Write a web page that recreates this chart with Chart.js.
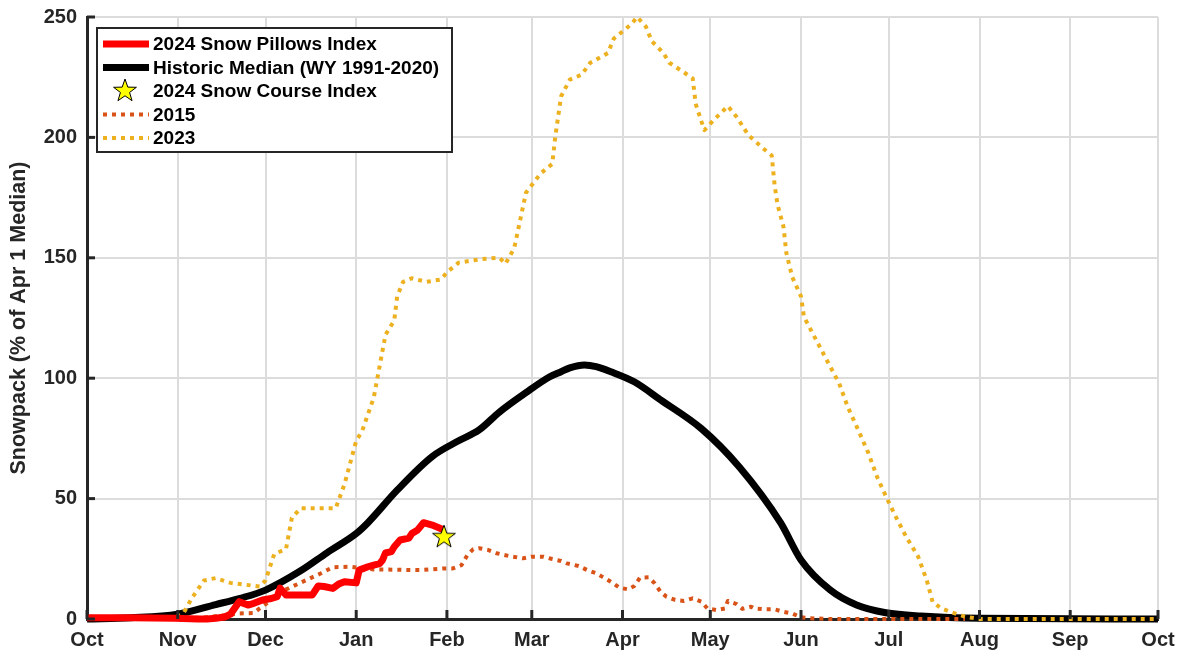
<!DOCTYPE html>
<html>
<head>
<meta charset="utf-8">
<script src="https://cdn.jsdelivr.net/npm/chart.js@4.4.1/dist/chart.umd.min.js"></script>
<style>
  html, body { margin: 0; padding: 0; background: #fff; }
  #wrap { width: 1183px; height: 656px; position: relative; }
</style>
</head>
<body>
<div id="wrap"><canvas id="canvas"></canvas></div>
<script>
// x = days since Oct 1 (WY 2024, leap Feb)
const monthDays = [0, 31, 61, 92, 123, 152, 183, 213, 244, 274, 305, 336, 366]
const monthNames = ['Oct', 'Nov', 'Dec', 'Jan', 'Feb', 'Mar', 'Apr', 'May', 'Jun', 'Jul', 'Aug', 'Sep', 'Oct']
const yTicks = [0, 50, 100, 150, 200, 250]

// 2024 snow pillows index
const days2024 = [0, 15, 30, 38, 41, 44, 47, 49, 50, 52, 55, 57, 60, 63, 65, 66, 68, 72, 77, 79, 81, 84, 86, 88, 92, 93, 96, 98, 100, 101, 102, 104, 105, 107, 110, 111, 113, 115, 118, 122]
const pillows2024 = [0.5, 0.5, 0.3, 0, 0, 0.3, 0.8, 2, 3.7, 7.2, 5.8, 6.5, 7.9, 8.5, 9.3, 12.8, 10, 10, 10, 13.7, 13.5, 12.7, 14.5, 15.5, 15, 20.3, 21.7, 22.4, 23, 24.5, 27.4, 28, 30, 32.8, 33.6, 35.5, 37, 40, 39, 37]

// historic median WY 1991-2020
const daysMedian = [0, 15, 31, 44, 52, 61, 73, 82, 92, 96, 106, 118, 127, 134, 141, 150, 158, 162, 165, 170, 174, 179, 187, 196, 210, 223, 237, 244, 254, 263, 273, 285, 305, 366]
const median = [0, 0.5, 2, 6, 8.5, 12, 20, 27.5, 35.5, 40, 53.5, 67.5, 74, 78.5, 86, 94, 100.5, 102.7, 104.3, 105.5, 104.8, 102.7, 98.5, 91, 79, 63, 40, 24.5, 12, 5.8, 2.6, 1.2, 0.3, 0]

// 2024 snow course index
const courseDays = [122]
const course2024 = [34]

// 2015
const days2015 = [0, 39, 52, 57, 59, 62, 64, 70, 75, 80, 84, 90, 98, 114, 122, 125, 128, 130, 132, 134, 137, 140, 144, 149, 152, 156, 159, 162, 164, 168, 171, 174, 176, 179, 182, 185, 187, 189, 192, 194, 196, 198, 201, 204, 207, 210, 212, 215, 218, 219, 222, 224, 227, 228, 232, 235, 238, 241, 244, 247, 254, 300]
const vals2015 = [0, 0.5, 2.3, 2.5, 4.4, 7, 10, 13.4, 16.2, 19, 21.5, 21.7, 20.6, 20.3, 21, 21, 22.4, 26.6, 29, 29.4, 28.7, 27.3, 26.2, 25.2, 25.9, 25.9, 24.9, 24.1, 23.1, 22, 20.3, 19, 17.6, 15.5, 13, 12.3, 13.7, 17.2, 17.3, 14.8, 11.3, 9.3, 7.9, 7.5, 8.6, 7.2, 4.4, 3.7, 4.4, 7.5, 6.2, 4.2, 5.1, 4.4, 4, 4, 3, 2.3, 0.7, 0.3, 0, 0]

// 2023
const days2023 = [0, 30, 33, 36, 40, 44, 49, 59, 61, 64, 68, 70, 73, 85, 88, 92, 94, 98, 100, 102, 105, 106, 108, 111, 116, 121, 123, 127, 135, 141, 143, 146, 150, 155, 159, 160, 162, 165, 169, 172, 178, 180, 186, 188, 191, 193, 197, 199, 204, 207, 208, 210, 211, 214, 219, 222, 226, 231, 234, 235, 236, 238, 239, 241, 244, 245, 248, 251, 254, 257, 260, 263, 267, 270, 273, 277, 280, 284, 287, 289, 292, 295, 300, 305, 366]
const vals2023 = [0, 0.5, 2.5, 9, 16, 17, 15, 13.5, 16, 27, 29, 42, 46, 46, 56, 74, 78, 92, 105, 118, 124, 134, 140, 141.5, 140, 141, 144, 148, 149.5, 150, 147.5, 154, 177, 185, 189, 200, 217, 224, 226, 231, 235, 241, 247, 250, 246, 240, 235, 231, 227, 224.5, 214, 206.5, 203, 207, 213, 208.5, 201, 195.5, 192.5, 180, 172, 163, 152, 142, 134, 125.5, 118.6, 111.7, 104.8, 98, 88, 80, 69, 59, 51, 41, 34, 26, 16, 7, 4.4, 3, 1, 0, 0]

const FONT = "'Liberation Sans', Arial, Helvetica, sans-serif"
const AXIS = '#262626'

const pts = (xs, ys) => xs.map((x, i) => ({ x: x, y: ys[i] }))

// yellow pentagram marker
function makeStar(r) {
  const s = Math.ceil(r * 2 + 4)
  const c = document.createElement('canvas')
  c.width = s
  c.height = s
  const g = c.getContext('2d')
  g.beginPath()
  for (let i = 0; i < 10; i++) {
    const rad = i % 2 === 0 ? r : r * 0.4
    const a = -Math.PI / 2 + i * Math.PI / 5
    g.lineTo(s / 2 + rad * Math.cos(a), s / 2 + rad * Math.sin(a))
  }
  g.closePath()
  g.fillStyle = '#ffff00'
  g.fill()
  g.lineWidth = 1
  g.strokeStyle = '#000'
  g.stroke()
  return c
}
const star = makeStar(12)

// inward tick marks like the original
const inwardTicks = {
  id: 'inwardTicks',
  afterDatasetsDraw(chart) {
    const { ctx, chartArea, scales } = chart
    ctx.save()
    ctx.strokeStyle = AXIS
    ctx.lineWidth = 3
    monthDays.forEach(d => {
      const x = scales.x.getPixelForValue(d)
      ctx.beginPath()
      ctx.moveTo(x, chartArea.bottom)
      ctx.lineTo(x, chartArea.bottom - 9)
      ctx.stroke()
    })
    yTicks.forEach(v => {
      const y = scales.y.getPixelForValue(v)
      ctx.beginPath()
      ctx.moveTo(chartArea.left, y)
      ctx.lineTo(chartArea.left + 8, y)
      ctx.stroke()
    })
    ctx.restore()
  }
}

// boxed legend in upper left of the axes
const legendBox = {
  id: 'legendBox',
  afterDraw(chart) {
    const { ctx, chartArea } = chart
    const left = chartArea.left + 10
    const top = chartArea.top + 11
    const w = 355
    const h = 124
    ctx.save()
    ctx.fillStyle = '#fff'
    ctx.fillRect(left, top, w, h)
    ctx.lineWidth = 2
    ctx.strokeStyle = AXIS
    ctx.strokeRect(left, top, w, h)
    ctx.font = 'bold 19px ' + FONT
    ctx.textBaseline = 'middle'
    chart.data.datasets.forEach((ds, i) => {
      const y = top + 16 + i * 23.5
      if (ds.showLine === false) {
        ctx.drawImage(star, left + 28 - star.width / 2, y - star.height / 2)
      } else {
        ctx.beginPath()
        ctx.lineWidth = ds.borderWidth
        ctx.strokeStyle = ds.borderColor
        ctx.setLineDash(ds.borderDash || [])
        ctx.moveTo(left + 6, y)
        ctx.lineTo(left + 52, y)
        ctx.stroke()
        ctx.setLineDash([])
      }
      ctx.fillStyle = '#000'
      ctx.fillText(ds.label, left + 56, y + 1)
    })
    ctx.restore()
  }
}

const ctx = document.getElementById('canvas').getContext('2d')
const chart = new Chart(ctx, {
  type: 'line',
  data: {
    datasets: [{
      label: '2024 Snow Pillows Index',
      data: pts(days2024, pillows2024),
      borderColor: '#ff0000',
      borderWidth: 7,
      pointRadius: 0,
      order: 1
    }, {
      label: 'Historic Median (WY 1991-2020)',
      data: pts(daysMedian, median),
      borderColor: '#000000',
      borderWidth: 7,
      pointRadius: 0,
      cubicInterpolationMode: 'monotone',
      order: 4
    }, {
      label: '2024 Snow Course Index',
      data: pts(courseDays, course2024),
      showLine: false,
      pointStyle: star,
      pointRadius: 12,
      order: 0
    }, {
      label: '2015',
      data: pts(days2015, vals2015),
      borderColor: '#d95319',
      borderWidth: 4,
      borderDash: [4, 5],
      pointRadius: 0,
      order: 3
    }, {
      label: '2023',
      data: pts(days2023, vals2023),
      borderColor: '#edb120',
      borderWidth: 4,
      borderDash: [4, 5],
      pointRadius: 0,
      order: 2
    }]
  },
  options: {
    responsive: true,
    maintainAspectRatio: false,
    animation: false,
    clip: false,
    layout: { autoPadding: false, padding: { top: 17, right: 25, left: 0, bottom: 0 } },
    plugins: { legend: { display: false }, tooltip: { enabled: false } },
    elements: { line: { tension: 0, borderCapStyle: 'butt', borderJoinStyle: 'round' } },
    scales: {
      x: {
        type: 'linear',
        min: 0,
        max: 366,
        afterBuildTicks: scale => { scale.ticks = monthDays.map(v => ({ value: v })) },
        afterFit: scale => {
          scale.height = 37
          scale.paddingLeft = 0
          scale.paddingRight = 0
        },
        ticks: {
          autoSkip: false,
          maxRotation: 0,
          padding: 9,
          color: AXIS,
          font: { family: FONT, size: 20, weight: 'bold' },
          callback: v => monthNames[monthDays.indexOf(v)]
        },
        grid: { color: '#dcdcdc', lineWidth: 2, drawTicks: false },
        border: { display: true, color: AXIS, width: 3 }
      },
      y: {
        min: 0,
        max: 250,
        afterBuildTicks: scale => { scale.ticks = yTicks.map(v => ({ value: v })) },
        afterFit: scale => {
          scale.width = 87
          scale.paddingTop = 0
          scale.paddingBottom = 0
        },
        ticks: {
          padding: 10,
          color: AXIS,
          font: { family: FONT, size: 20, weight: 'bold' }
        },
        title: {
          display: true,
          text: 'Snowpack (% of Apr 1 Median)',
          color: AXIS,
          font: { family: FONT, size: 21.5, weight: 'bold' },
          padding: { top: 6, bottom: 0 }
        },
        grid: { color: '#dcdcdc', lineWidth: 2, drawTicks: false },
        border: { display: true, color: AXIS, width: 3 }
      }
    }
  },
  plugins: [inwardTicks, legendBox]
})
</script>
</body>
</html>
